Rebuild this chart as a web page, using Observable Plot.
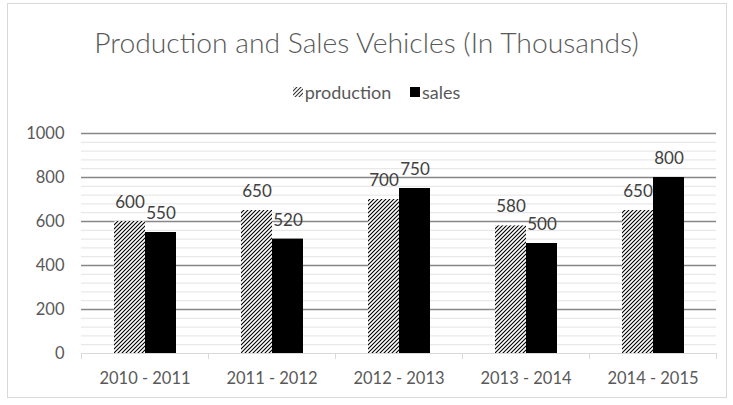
<!DOCTYPE html>
<html>
<head>
<meta charset="utf-8">
<script src="https://cdn.jsdelivr.net/npm/d3@7"></script>
<script src="https://cdn.jsdelivr.net/npm/@observablehq/plot@0.6"></script>
<style>
  html, body { margin: 0; padding: 0; background: #fff; }
  #wrap { position: relative; width: 733px; height: 405px; overflow: hidden; font-family: Lato, "Open Sans", sans-serif; }
  #box { position: absolute; left: 7px; top: 3px; width: 718px; height: 393px; border: 1px solid #d9d9d9; }
  #title { position: absolute; left: 0; width: 733px; top: 25px; text-align: center; font-size: 28.3px; font-weight: 300; color: #595959; white-space: nowrap; }
  #legend { position: absolute; left: 10px; width: 733px; top: 79px; text-align: center; font-size: 18px; color: #595959; white-space: nowrap; }
  #legend span.item { display: inline-flex; align-items: center; margin: 0 7px; }
  #legend svg { margin-right: 2px; }
  #chart { position: absolute; left: 0; top: 110px; }
</style>
</head>
<body>
<div id="wrap">
  <div id="box"></div>
  <div id="title">Production and Sales Vehicles (In Thousands)</div>
  <div id="legend">
    <span class="item"><svg width="10" height="10"><defs><pattern id="lhatch" width="4" height="4" patternUnits="userSpaceOnUse"><path d="M-1,1 l2,-2 M0,4 l4,-4 M3,5 l2,-2" stroke="#333" stroke-width="1.1"/></pattern></defs><rect width="10" height="10" fill="url(#lhatch)"/></svg>production</span>
    <span class="item"><svg width="10" height="10"><rect width="10" height="10" fill="black"/></svg>sales</span>
  </div>
  <div id="chart"></div>
</div>
<script>
const years = ["2010 - 2011", "2011 - 2012", "2012 - 2013", "2013 - 2014", "2014 - 2015"];
const production = [600, 650, 700, 580, 650];
const sales = [550, 520, 750, 500, 800];
const seriesNames = ["production", "sales"];
const yMajorTicks = [0, 200, 400, 600, 800, 1000];
const yMinorTicks = d3.range(0, 1001, 40);

const rows = [];
years.forEach((yr, i) => {
  rows.push({year: yr, series: "production", value: production[i]});
  rows.push({year: yr, series: "sales", value: sales[i]});
});

const font = "Lato, 'Open Sans', sans-serif";

const chart = Plot.plot({
  width: 733,
  height: 290,
  marginTop: 23,
  marginBottom: 47,
  marginLeft: 80,
  marginRight: 16,
  style: {fontFamily: font, fontSize: "16.5px", color: "#595959", background: "transparent", overflow: "visible"},
  fx: {domain: years, padding: 0, label: null, axis: "bottom", tickSize: 0, tickPadding: 19},
  x: {domain: seriesNames, paddingInner: 0, paddingOuter: 0.99, axis: null},
  y: {domain: [0, 1000], axis: null},
  marks: [
    Plot.ruleY(yMinorTicks.filter(d => d % 200 !== 0), {stroke: "#e3e3e3", strokeWidth: 1}),
    Plot.ruleY(yMajorTicks.filter(d => d > 0), {stroke: "#878787", strokeWidth: 1.4}),
    Plot.barY(rows.filter(d => d.series === "production"), {fx: "year", x: "series", y: "value", fill: "url(#hatch)"}),
    Plot.barY(rows.filter(d => d.series === "sales"), {fx: "year", x: "series", y: "value", fill: "black"}),
    Plot.ruleY([0], {stroke: "#d9d9d9", strokeWidth: 1.2}),
    Plot.frame({anchor: "left", stroke: "#d9d9d9", insetTop: 220, insetBottom: -5}),
    Plot.frame({anchor: "right", stroke: "#d9d9d9", insetTop: 220, insetBottom: -5}),
    Plot.text(rows, {fx: "year", x: "series", y: "value", text: d => String(d.value), dy: -19, fill: "#404040", fontSize: 17}),
    Plot.axisY(yMajorTicks, {tickSize: 0, tickPadding: 17, fontSize: 16.5, fill: "#595959", label: null, tickFormat: d => String(d)})
  ]
});

const svgNS = "http://www.w3.org/2000/svg";
const defs = document.createElementNS(svgNS, "defs");
defs.innerHTML = '<pattern id="hatch" width="4" height="4" patternUnits="userSpaceOnUse"><rect width="4" height="4" fill="white"/><path d="M-1,1 l2,-2 M0,4 l4,-4 M3,5 l2,-2" stroke="black" stroke-width="1.1"/></pattern>';
chart.insertBefore(defs, chart.firstChild);
document.getElementById("chart").appendChild(chart);
</script>
</body>
</html>
